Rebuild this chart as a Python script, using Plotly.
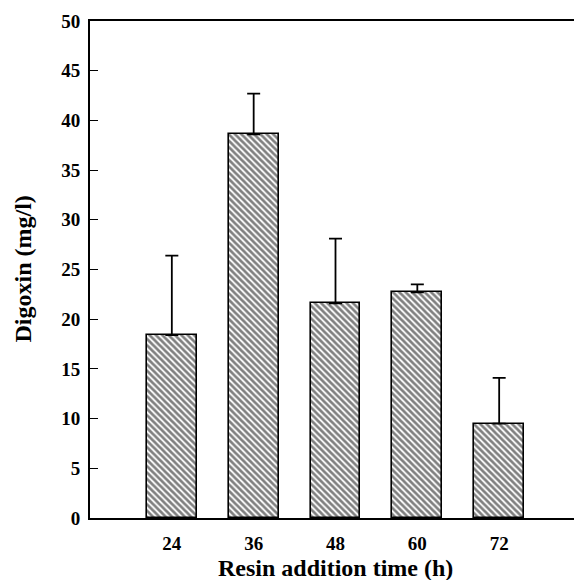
import plotly.graph_objects as go

# Data
times = [24, 36, 48, 60, 72]                 # Resin addition time (h)
digoxin = [18.4, 38.6, 21.6, 22.7, 9.5]      # Digoxin (mg/l)
err_plus = [8.0, 4.1, 6.5, 0.8, 4.6]         # upper error (mg/l)
y_ticks = [0, 5, 10, 15, 20, 25, 30, 35, 40, 45, 50]

FONT = "Liberation Serif"

fig = go.Figure()
fig.add_trace(go.Bar(
    x=times,
    y=digoxin,
    width=7.3,
    marker=dict(
        color="white",
        line=dict(color="black", width=1.6),
        pattern=dict(shape="\\", size=4.5, solidity=0.6, fgcolor="black", bgcolor="white"),
    ),
    error_y=dict(
        type="data", symmetric=False, array=err_plus, arrayminus=[0] * len(times),
        color="black", thickness=1.8, width=6.5,
    ),
    showlegend=False,
))

# the page body has an 8px margin, so the figure is sized to fit the window
fig.update_layout(
    width=574, height=572,
    margin=dict(l=82, r=1, t=13, b=62, autoexpand=False),
    paper_bgcolor="white", plot_bgcolor="white",
    font=dict(family=FONT, color="black"),
    bargap=0,
    annotations=[
        dict(text="Resin addition time (h)", xref="paper", yref="paper",
             x=0.5, y=0, yshift=-50, xanchor="center", yanchor="middle",
             showarrow=False, font=dict(family=FONT, size=24, weight="bold")),
        dict(text="Digoxin (mg/l)", xref="paper", yref="paper",
             x=0, y=0.5, xshift=-68, xanchor="center", yanchor="middle",
             textangle=-90, showarrow=False,
             font=dict(family=FONT, size=24, weight="bold")),
    ],
)

fig.update_xaxes(
    range=[12, 84],
    tickvals=times,
    ticktext=[str(t) for t in times],
    ticks="",
    automargin=False,
    showgrid=False, zeroline=False,
    showline=True, linecolor="black", linewidth=1.6, mirror=True,
    tickfont=dict(family=FONT, size=19, weight="bold"),
    ticklabelstandoff=7,
)

fig.update_yaxes(
    range=[0, 50],
    tickvals=y_ticks,
    ticks="inside", ticklen=8, tickwidth=1.4, tickcolor="black",
    automargin=False,
    showgrid=False, zeroline=False,
    showline=True, linecolor="black", linewidth=1.8,
    tickfont=dict(family=FONT, size=19, weight="bold"),
    ticklabelstandoff=4,
)

fig.write_html("out.html")
